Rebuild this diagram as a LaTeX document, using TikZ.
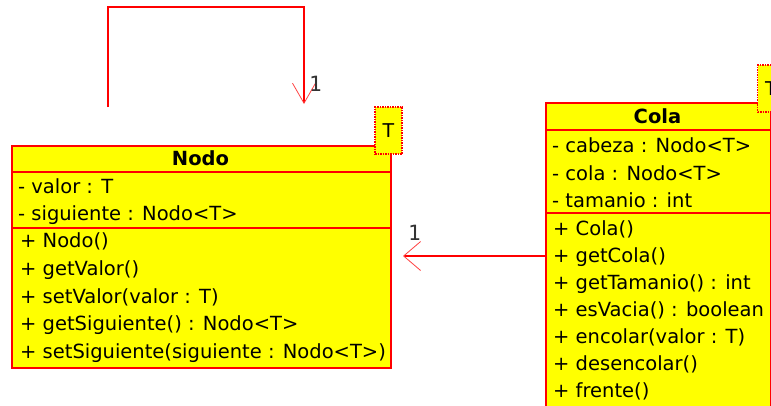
\documentclass[tikz,border=0pt]{standalone}
\usepackage{fontspec}
\setmainfont{DejaVu Sans}
\newfontfamily\multfont{DejaVu Sans Mono}
\usepackage{tikz}
\usetikzlibrary{arrows.meta}
\definecolor{umlyellow}{RGB}{255,255,0}
\definecolor{umlred}{RGB}{255,0,0}
\tikzset{
  classbox/.style={draw=umlred, fill=umlyellow, line width=1.5pt, anchor=north west, inner sep=0pt},
  tparam/.style={draw=umlred, fill=umlyellow, densely dotted, line width=1.5pt, inner sep=0pt,
    minimum width=27pt, minimum height=47pt, font=\fontsize{19}{20}\selectfont},
  ctitle/.style={anchor=base, inner sep=0pt, font=\fontsize{19.5}{20}\selectfont\bfseries},
  member/.style={anchor=base west, inner sep=0pt, font=\fontsize{19.5}{20}\selectfont},
  mult/.style={anchor=base west, inner sep=0pt, text=black!80, font=\multfont\fontsize{21}{21}\selectfont},
  assoc/.style={draw=umlred, line width=1.6pt},
  sep/.style={draw=umlred, line width=1.5pt}
}

\begin{document}
\begin{tikzpicture}[x=1pt, y=-1pt]
  \useasboundingbox (0,0) rectangle (771,405);
  \clip (0,0) rectangle (771,405);
  % class Nodo
  \node[classbox, minimum width=379pt, minimum height=222pt] (nodo) at (11,145) {};
  \draw[sep] (11,172) -- (390,172);
  \draw[sep] (11,228) -- (390,228);
  \node[tparam] (nodoT) at (388.5,130.5) {T};
  \node[ctitle] (nodoName) at (200.5,165) {Nodo};
  \node[member] (nValor) at (18,193) {- valor : T};
  \node[member] (nSig) at (18,220) {- siguiente : Nodo<T>};
  \node[member] (nNodo) at (20,247) {+ Nodo()};
  \node[member] (nGetV) at (20,275) {+ getValor()};
  \node[member] (nSetV) at (20,303) {+ setValor(valor : T)};
  \node[member] (nGetS) at (20,330) {+ getSiguiente() : Nodo<T>};
  \node[member] (nSetS) at (20,358) {+ setSiguiente(siguiente : Nodo<T>)};
  % class Cola
  \node[classbox, minimum width=225pt, minimum height=330pt] (cola) at (545,102) {};
  \draw[sep] (545,130) -- (770,130);
  \draw[sep] (545,213) -- (770,213);
  \node[tparam] (colaT) at (771,88.5) {T};
  \node[ctitle] (colaName) at (657.5,123) {Cola};
  \node[member] (cCabeza) at (552,152) {- cabeza : Nodo<T>};
  \node[member] (cCola) at (552,180) {- cola : Nodo<T>};
  \node[member] (cTam) at (552,207) {- tamanio : int};
  \node[member] (cNew) at (553,235) {+ Cola()};
  \node[member] (cGetC) at (553,262) {+ getCola()};
  \node[member] (cGetT) at (553,289) {+ getTamanio() : int};
  \node[member] (cVacia) at (553,316) {+ esVacia() : boolean};
  \node[member] (cEnc) at (553,343) {+ encolar(valor : T)};
  \node[member] (cDes) at (553,370) {+ desencolar()};
  \node[member] (cFrente) at (553,397) {+ frente()};
  % associations
  \coordinate (loopStart) at (108,107);
  \coordinate (loopEnd) at (304,104);
  \coordinate (colaEnd) at (403,256);
  \draw[assoc, -{Straight Barb[length=20pt, width=23pt, line width=0.8pt, color=umlred!75]}]
    (loopStart) -- ++(0,-100) -| (loopEnd);
  \draw[assoc, -{Straight Barb[length=17pt, width=29pt, line width=0.8pt, color=umlred!75]}]
    (cola.west |- colaEnd) -- (colaEnd);
  \node[mult] (loopMult) at (309,91) {1};
  \node[mult] (colaMult) at (408,240) {1};
\end{tikzpicture}
\end{document}
